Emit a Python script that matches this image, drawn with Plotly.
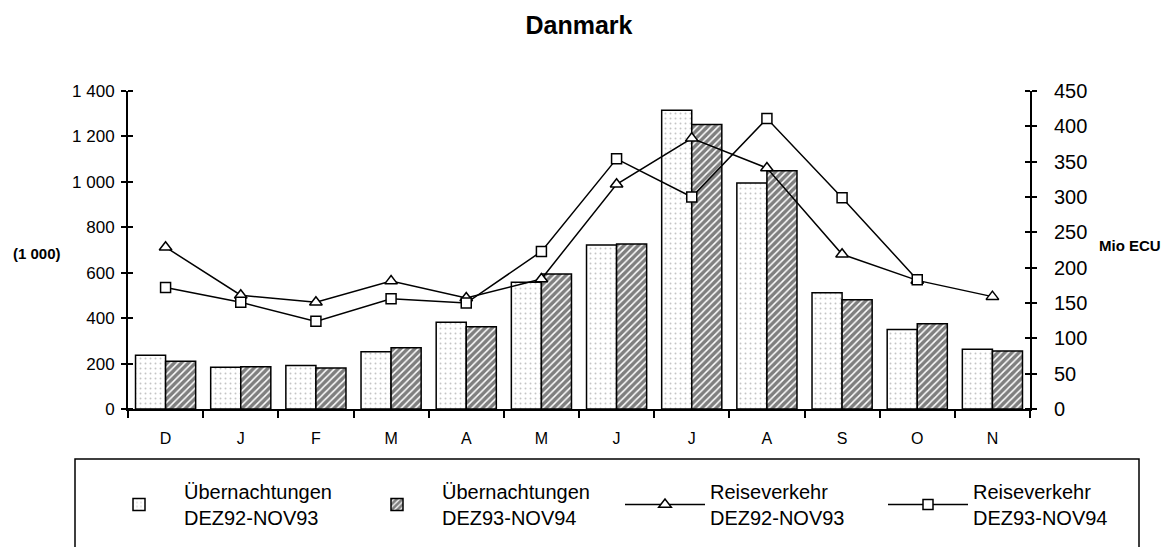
import plotly.graph_objects as go

months = ["D", "J", "F", "M", "A", "M", "J", "J", "A", "S", "O", "N"]
nights_9293 = [237, 184, 192, 252, 382, 558, 722, 1315, 995, 512, 350, 263]
nights_9394 = [210, 186, 180, 270, 362, 594, 726, 1252, 1049, 481, 375, 255]
travel_9293 = [229, 161, 151, 181, 157, 184, 318, 383, 341, 219, 182, 159]
travel_9394 = [172, 151, 124, 156, 150, 223, 354, 300, 411, 299, 183, None]
left_ticks = [0, 200, 400, 600, 800, 1000, 1200, 1400]
left_ticktext = ["0", "200", "400", "600", "800", "1 000", "1 200", "1 400"]
right_ticks = [0, 50, 100, 150, 200, 250, 300, 350, 400, 450]

x = list(range(len(months)))
FONT = "Liberation Sans, Arial, sans-serif"

# The page body has an 8px margin; figure is sized to fit the 1169x547 window.
OFF = 8
W, H = 1169 - OFF, 547 - OFF
ML, MR, MT, MB = 120, 139, 83, 138
PW, PH = W - ML - MR, H - MT - MB


def px(page_x):
    return (page_x - OFF - ML) / PW


def py(page_y):
    return (H - MB - (page_y - OFF)) / PH


fig = go.Figure()
fig.add_trace(go.Bar(
    x=x, y=nights_9293, name="Übernachtungen<br>DEZ92-NOV93", legend="legend",
    marker=dict(color="white", line=dict(color="black", width=1.5),
                pattern=dict(shape=".", fgcolor="#8a8a8a", bgcolor="white", size=5, solidity=0.12)),
))
fig.add_trace(go.Bar(
    x=x, y=nights_9394, name="Übernachtungen<br>DEZ93-NOV94", legend="legend2",
    marker=dict(color="white", line=dict(color="black", width=1.5),
                pattern=dict(shape="/", fgcolor="black", bgcolor="white", size=5, solidity=0.7)),
))
fig.add_trace(go.Scatter(
    x=x, y=travel_9293, name="Reiseverkehr<br>DEZ92-NOV93", yaxis="y2", legend="legend3",
    mode="lines+markers", line=dict(color="black", width=1.5),
    marker=dict(symbol="triangle-up", size=11, color="white", line=dict(color="black", width=1.5)),
))
fig.add_trace(go.Scatter(
    x=x, y=travel_9394, name="Reiseverkehr<br>DEZ93-NOV94", yaxis="y2", legend="legend4",
    mode="lines+markers", line=dict(color="black", width=1.5),
    marker=dict(symbol="square", size=10, color="white", line=dict(color="black", width=1.5)),
))

axis_common = dict(showgrid=False, zeroline=False, linecolor="black")

leg_common = dict(xref="paper", yref="paper", xanchor="left", yanchor="top", visible=True,
                  bgcolor="rgba(0,0,0,0)", font=dict(family=FONT, size=20, color="black"),
                  itemwidth=80, y=py(472))

fig.update_layout(
    width=W, height=H, showlegend=True,
    margin=dict(l=ML, r=MR, t=MT, b=MB, autoexpand=False),
    paper_bgcolor="white", plot_bgcolor="white",
    font=dict(family=FONT, color="black"),
    title=dict(text="<b>Danmark</b>", x=0.5, xref="paper", xanchor="center",
               y=1 - (25 - OFF) / H, yref="container", yanchor="middle",
               font=dict(family=FONT, size=25, color="black")),
    barmode="group", bargap=0.2, bargroupgap=0,
    xaxis=dict(**axis_common, range=[-0.5, 11.5], tickvals=x, ticktext=months,
               ticks="outside", ticklen=14, tickcolor="rgba(0,0,0,0)",
               showline=True, linewidth=2, tickfont=dict(size=16),
               minor=dict(tickvals=[i - 0.5 for i in range(len(months) + 1)], ticks="outside",
                          ticklen=7, tickwidth=1.5, tickcolor="black")),
    yaxis=dict(**axis_common, range=[0, 1400], tickvals=left_ticks, ticktext=left_ticktext,
               ticks="outside", ticklen=5, tickwidth=1.5, tickcolor="black",
               showline=True, linewidth=2, tickfont=dict(size=17), ticklabelstandoff=3,
               minor=dict(tickvals=[v + 0.01 for v in left_ticks], ticks="inside",
                          ticklen=5, tickwidth=1.5, tickcolor="black")),
    yaxis2=dict(**axis_common, range=[0, 450], tickvals=right_ticks, overlaying="y", side="right",
                ticks="outside", ticklen=5, tickwidth=1.5, tickcolor="black",
                showline=True, linewidth=2, tickfont=dict(size=20), ticklabelstandoff=13,
                minor=dict(tickvals=[v + 0.01 for v in right_ticks], ticks="inside",
                           ticklen=5, tickwidth=1.5, tickcolor="black")),
    legend=dict(**leg_common, x=px(94)),
    legend2=dict(**leg_common, x=px(352)),
    legend3=dict(**leg_common, x=px(620)),
    legend4=dict(**leg_common, x=px(883)),
    shapes=[dict(type="rect", xref="paper", yref="paper",
                 x0=px(75), x1=px(1139), y0=py(600), y1=py(459),
                 line=dict(color="black", width=1.5), fillcolor="rgba(0,0,0,0)", layer="below")],
    annotations=[
        dict(text="<b>(1 000)</b>", xref="paper", yref="paper", x=px(37), y=py(253),
             showarrow=False, xanchor="center", yanchor="middle", font=dict(size=15)),
        dict(text="<b>Mio ECU</b>", xref="paper", yref="paper", x=px(1130), y=py(245),
             showarrow=False, xanchor="center", yanchor="middle", font=dict(size=15)),
    ],
)

fig.write_html("out.html")
